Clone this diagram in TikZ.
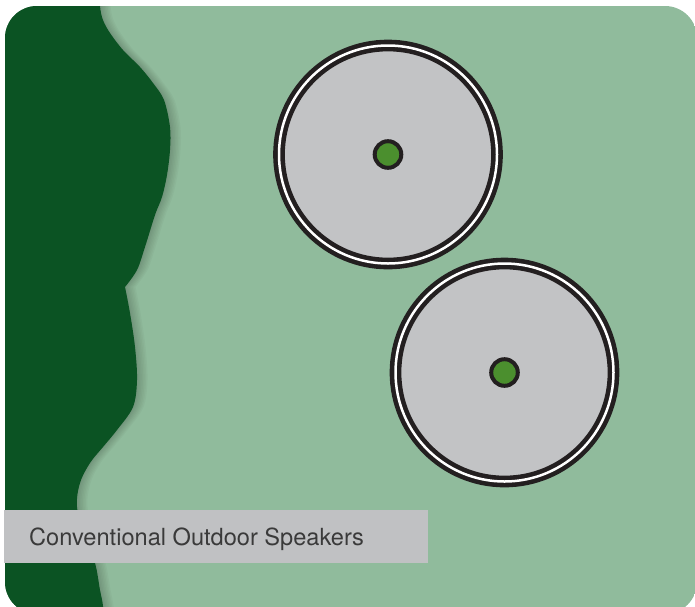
\documentclass[tikz,border=0pt]{standalone}
\usepackage{fontspec}
\newfontfamily\labelfont{TeX Gyre Heros}
\definecolor{lightgreen}{HTML}{90BB9C}
\definecolor{darkgreen}{HTML}{0B5323}
\definecolor{speakergray}{HTML}{C2C3C5}
\definecolor{labelgray}{HTML}{C0C1C3}
\definecolor{dotgreen}{HTML}{4B8F2E}
\definecolor{inkblack}{HTML}{231F20}
\definecolor{textgray}{HTML}{3A3A3A}
\def\myshore{(-20,-20) -- (99,-20)
  -- plot[smooth, tension=0.55] coordinates {(99,-20) (100,6) (103,20) (110,33) (123,50) (140,67) (153,83) (164,100) (170,127) (170,150) (167,175) (162,197) (155,215) (145,247) (137,270) (125,287)}
  -- plot[smooth, tension=0.55] coordinates {(125,287) (130,313) (135,347) (137,380) (133,407) (117,430) (103,447) (90,463) (80,483) (77,507) (85,540) (95,563) (100,590) (103,606) (104,630)}
  -- (-20,630) -- cycle}
\tikzset{
  speaker/.style={circle, inner sep=0pt, minimum size=218pt, fill=speakergray,
    draw=inkblack, line width=4.6pt, double=white, double distance=2.5pt},
  speakerdot/.style={circle, inner sep=0pt, minimum size=26.6pt, fill=dotgreen,
    draw=inkblack, line width=4pt},
  labelbox/.style={rectangle, fill=labelgray, inner sep=0pt, anchor=north west,
    minimum width=424pt, minimum height=53pt},
  labeltext/.style={anchor=base west, inner sep=0pt, text=textgray,
    font=\labelfont\fontsize{23.6}{28}\selectfont}
}
\begin{document}
\begin{tikzpicture}[x=1pt, y=-1pt]
\useasboundingbox (0,0) rectangle (695,606);
\fill[white] (0,0) rectangle (695,606);
\begin{scope}
  \clip[rounded corners=32pt] (5,6) rectangle (697,614);
  \fill[lightgreen] (0,0) rectangle (700,620);
  \foreach \s in {1.5,3,4.5,6,7.5,9,10.5} {
    \fill[black, opacity=0.026, xshift=\s pt] \myshore;
  }
  \fill[darkgreen] \myshore;
\end{scope}
\node[speaker] (spk1) at (388,154.5) {};
\node[speakerdot] (dot1) at (spk1.center) {};
\node[speaker] (spk2) at (504.5,372.5) {};
\node[speakerdot] (dot2) at (spk2.center) {};
\node[labelbox] (box) at (4,510) {};
\node[labeltext] (lbl) at (29,545) {Conventional Outdoor Speakers};
\end{tikzpicture}
\end{document}
